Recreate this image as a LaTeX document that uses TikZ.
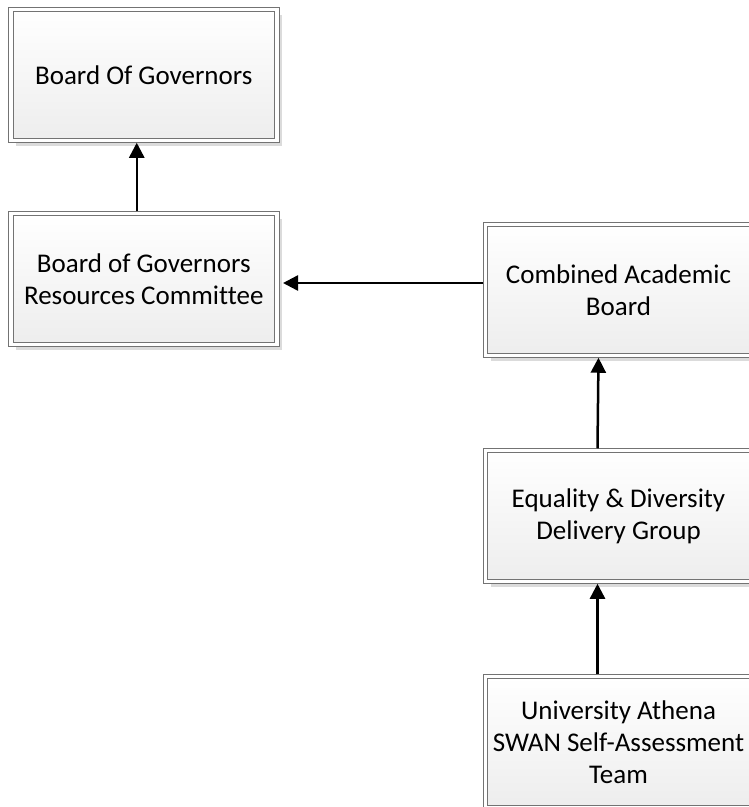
\documentclass[tikz,border=0pt]{standalone}
\usepackage{fontspec}
\setmainfont[Ligatures=NoCommon]{Carlito}
\usetikzlibrary{arrows.meta}
\usetikzlibrary{shadows}
\tikzset{orgbox/.style = {draw=bgrey, line width=1pt, double=white, double distance=3.5pt,
                          top color=white, bottom color=bshade,
                          minimum width=266pt, minimum height=131pt, outer sep=2.25pt,
                          align=center, font=\fontsize{27}{32}\selectfont,
                          drop shadow={shadow xshift=5pt, shadow yshift=-5pt,
                                       fill=black!14, opacity=1}},
         upto/.style = {-{Triangle[length=15pt, width=15pt]}, line width=2.5pt}}
\definecolor{bgrey}{rgb}{0.45, 0.45, 0.45}
\definecolor{bshade}{rgb}{0.93, 0.93, 0.93}

\begin{document}
\begin{tikzpicture}[x=1pt, y=-1pt]
      \clip (0, 0) rectangle (749, 807);

      \node [orgbox] (bog) at (143.75, 75) {Board Of Governors};
      \node [orgbox] (bogrc) at (143.75, 279) {Board of Governors\\Resources Committee};
      \node [orgbox] (cab) at (618.5, 290) {Combined Academic\\Board};
      \node [orgbox] (eddg) at (618.5, 516) {Equality \& Diversity\\Delivery Group};
      \node [orgbox] (swan) at (618.5, 742) {University Athena\\SWAN Self-Assessment\\Team};

      \draw [upto] ([xshift=-7pt]bogrc.north) -- ([xshift=-7pt]bog.south);
      \draw [upto, shorten >=4pt] ([yshift=7pt]cab.west) -- ([yshift=7pt]cab.west -| bogrc.east);
      \draw [upto] ([xshift=-21pt]eddg.north) -- ([xshift=-20pt]cab.south);
      \draw [upto] ([xshift=-21pt]swan.north) -- ([xshift=-21pt]eddg.south);
\end{tikzpicture}
\end{document}
